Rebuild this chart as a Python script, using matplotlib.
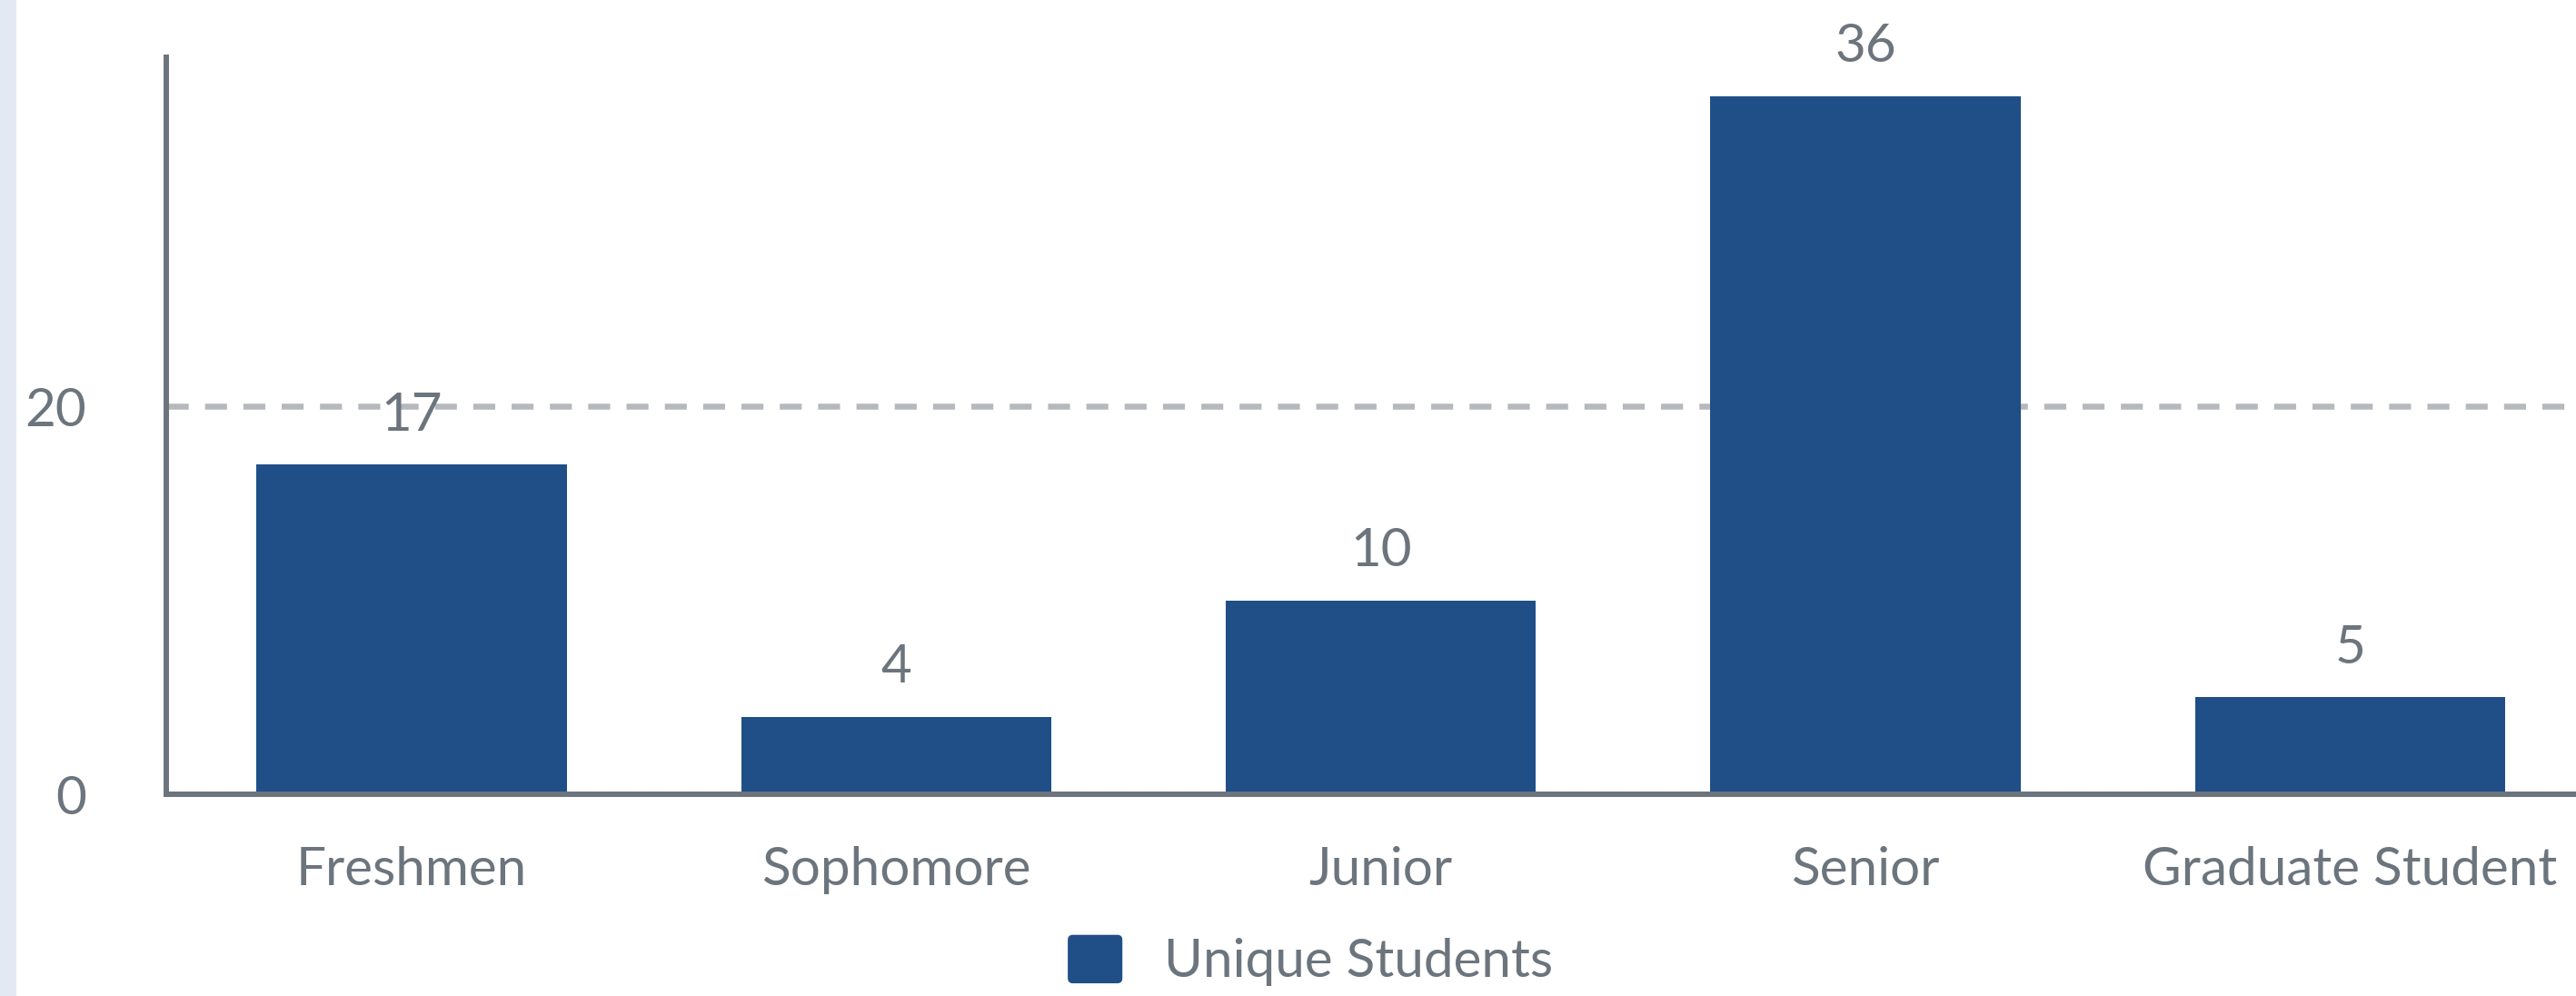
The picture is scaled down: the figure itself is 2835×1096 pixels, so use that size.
import matplotlib
matplotlib.use('Agg')
import matplotlib.pyplot as plt
from matplotlib.patches import Rectangle, FancyBboxPatch
from matplotlib.legend_handler import HandlerPatch

categories = ['Freshmen', 'Sophomore', 'Junior', 'Senior', 'Graduate Student']
unique_students = [17, 4, 10, 36, 5]
y_ticks = [0, 20]
series_name = 'Unique Students'

bar_color = '#1f4f86'
text_color = '#6c757d'
axis_color = '#6c747e'
grid_color = '#b5b8bd'


class RoundSquare(HandlerPatch):
    # legend swatch with slightly rounded corners
    def create_artists(self, legend, orig_handle, xdescent, ydescent,
                       width, height, fontsize, trans):
        p = FancyBboxPatch((-xdescent, -ydescent), width, height,
                           boxstyle='round,pad=0,rounding_size=4',
                           facecolor=bar_color, edgecolor='none', transform=trans)
        return [p]


plt.rcParams['font.family'] = ['Lato', 'DejaVu Sans']
plt.rcParams['font.size'] = 42

W, H = 2835, 1096
fig = plt.figure(figsize=(W / 100, H / 100), dpi=100)
fig.patch.set_facecolor('white')
# light strip on the left edge
fig.patches.append(Rectangle((0, 0), 18 / W, 1, transform=fig.transFigure,
                             facecolor='#e2e9f3', edgecolor='none'))

ax = fig.add_axes([183 / W, 1 - 874 / H, (2853 - 183) / W, 811 / H])
x = list(range(len(categories)))
bars = ax.bar(x, unique_students, width=0.64, color=bar_color, label=series_name, zorder=2)

for xi, v in zip(x, unique_students):
    ax.annotate(str(v), (xi, v), xytext=(0, 27), textcoords='offset points',
                ha='center', va='baseline', color=text_color, fontsize=42)

ax.set_xlim(-0.506, 4.5)
ax.set_ylim(0, 38)
ax.set_yticks(y_ticks)
ax.set_xticks(x)
ax.set_xticklabels(categories)
ax.tick_params(axis='both', length=0, colors=text_color, labelsize=42)
ax.tick_params(axis='y', pad=63)
ax.tick_params(axis='x', pad=41)

ax.grid(axis='y', color=grid_color, linewidth=4.7, linestyle=(0, (3.7, 2.76)))
ax.set_axisbelow(True)

for s in ['top', 'right']:
    ax.spines[s].set_visible(False)
for s in ['left', 'bottom']:
    ax.spines[s].set_color(axis_color)
    ax.spines[s].set_linewidth(4.3)

fig.legend(handles=[bars.patches[0]], labels=[series_name], loc='center',
           bbox_to_anchor=(1442 / W, 1 - 1057 / H), frameon=False,
           handlelength=1.03, handleheight=1.03, handletextpad=0.78,
           borderpad=0, labelcolor=text_color, fontsize=42,
           handler_map={bars.patches[0]: RoundSquare()})

fig.savefig('out.png', dpi=100)
